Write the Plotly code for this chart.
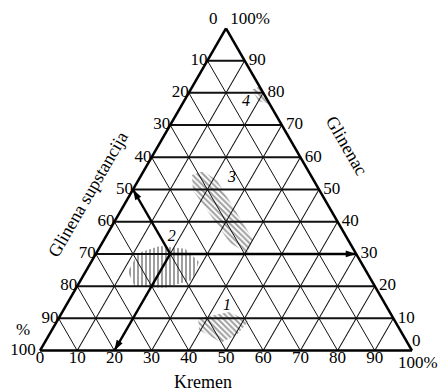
import math
import plotly.graph_objects as go

# tick labels on the three edges (reference reads 0 -> 100 counter-clockwise)
ticks = [10, 20, 30, 40, 50, 60, 70, 80, 90]

# hatched composition fields (a = Glinenac, b = Glinena supstancija, c = Kremen)
zone1_a = [10, 12, 9, 5, 2.5, 6.5]
zone1_b = [52.5, 43, 39.5, 44.5, 50, 54]
zone1_c = [37.5, 45, 51.5, 50.5, 47.5, 39.5]

zone2_a = [24.5, 30.3, 32.5, 31.6, 27.6, 22.0, 19.5, 19.8]
zone2_b = [64.1, 58.5, 51.5, 45.2, 43.5, 47.9, 56.7, 64.6]
zone2_c = [11.4, 11.2, 16.0, 23.2, 28.9, 30.1, 23.8, 15.6]

zone3_a = [54.5, 55.7, 52.9, 34.4, 30.3, 33.4, 49.8]
zone3_b = [31.9, 28.3, 26.0, 25.5, 29.2, 32.2, 34.0]
zone3_c = [13.6, 16.0, 21.1, 40.1, 40.5, 34.4, 16.2]

zone4_a = [81, 82, 76.5, 77.5]
zone4_b = [2.5, 0, 0, 2.5]
zone4_c = [16.5, 18, 23.5, 20]

# field numbers
num_text = ['1', '2', '3', '4']
num_a = [13.9, 35.3, 53.6, 77.1]
num_b = [42.8, 46.9, 21.6, 6.1]
num_c = [43.3, 17.8, 24.8, 16.8]

# worked example: point 2 = 30 % Glinenac, 50 % Glinena supstancija, 20 % Kremen
pt = dict(a=30, b=50, c=20)

FONT = 'Liberation Serif'
H = math.sqrt(3) / 2


def to_xy(a, b, c):
    # ternary composition -> position on an overlaid cartesian frame (side = 100)
    x, y = [], []
    for ai, bi, ci in zip(a, b, c):
        s = ai + bi + ci
        x.append((ci + ai / 2) / s * 100)
        y.append(ai / s * 100 * H)
    return x, y


def zone(a, b, c, shape):
    x, y = to_xy(a, b, c)
    return go.Scatter(x=x, y=y, mode='lines', fill='toself',
                      line=dict(width=0, color='rgba(0,0,0,0)'),
                      fillcolor='rgba(0,0,0,0)',
                      fillpattern=dict(shape=shape, fgcolor='#404040',
                                       bgcolor='rgba(0,0,0,0)',
                                       size=4, solidity=0.5),
                      hoverinfo='skip', showlegend=False)


def labels(a, b, c, text, pos, size=17):
    return go.Scatterternary(a=a, b=b, c=c, mode='text', text=text,
                             textposition=pos, cliponaxis=False,
                             textfont=dict(family=FONT, size=size, color='black'),
                             hoverinfo='skip', showlegend=False)


fig = go.Figure()

fig.add_trace(zone(zone1_a, zone1_b, zone1_c, '\\'))
fig.add_trace(zone(zone2_a, zone2_b, zone2_c, '|'))
fig.add_trace(zone(zone3_a, zone3_b, zone3_c, '\\'))
fig.add_trace(zone(zone4_a, zone4_b, zone4_c, '\\'))

# arrows from point 2 to the three edges
ends = [
    (dict(a=50, b=50, c=0), -30),   # Glinena supstancija
    (dict(a=0, b=80, c=20), 210),   # Kremen
    (dict(a=30, b=0, c=70), 90),    # Glinenac
]
for end, ang in ends:
    fig.add_trace(go.Scatterternary(
        a=[pt['a'], end['a']], b=[pt['b'], end['b']], c=[pt['c'], end['c']],
        mode='lines', line=dict(color='black', width=2.4),
        hoverinfo='skip', showlegend=False))
    fig.add_trace(go.Scatterternary(
        a=[end['a']], b=[end['b']], c=[end['c']], mode='markers',
        marker=dict(symbol='arrow', size=11, angle=ang, color='black'),
        cliponaxis=False, hoverinfo='skip', showlegend=False))

# edge tick labels
fig.add_trace(labels([100 - v for v in ticks], ticks, [0] * 9,
                     [str(v) for v in ticks], 'middle left'))
fig.add_trace(labels(ticks, [0] * 9, [100 - v for v in ticks],
                     ['\u00a0' + str(v) for v in ticks], 'middle right'))
fig.add_trace(labels([0] * 9, [100 - v for v in ticks], ticks,
                     [str(v) for v in ticks], 'bottom center'))

# corner labels
fig.add_trace(labels([100, 100], [0, 0], [0, 0], ['0\u00a0\u00a0', '\u00a0100%'],
                     ['top left', 'top right']))
fig.add_trace(labels([0, 0], [100, 100], [0, 0], ['100\u00a0', '0'],
                     ['middle left', 'bottom center']))
fig.add_trace(labels([0], [0], [100], ['0'], 'top right'))

# field numbers
fig.add_trace(labels(num_a, num_b, num_c, ['<i>%s</i>' % t for t in num_text],
                     'middle center', size=16))

axis = dict(tickmode='linear', tick0=0, dtick=10, min=0,
            showgrid=True, gridcolor='#111', gridwidth=1,
            showline=True, linecolor='black', linewidth=2.5,
            showticklabels=False, ticks='', title=dict(text=''))

title_font = dict(family=FONT, size=18, color='black')
tick_font = dict(family=FONT, size=17, color='black')

fig.update_layout(
    width=447, height=391,
    margin=dict(l=32, r=43, t=20, b=48),
    paper_bgcolor='white', plot_bgcolor='white',
    font=dict(family=FONT, size=17, color='black'),
    xaxis=dict(range=[0, 100], visible=False, fixedrange=True),
    yaxis=dict(range=[0, 100 * H], visible=False, fixedrange=True,
               scaleanchor='x', scaleratio=1),
    ternary=dict(sum=100, bgcolor='rgba(0,0,0,0)',
                 aaxis=dict(axis, gridwidth=1.6),
                 baxis=axis, caxis=axis),
    annotations=[
        dict(text='Glinena supstancija', xref='paper', yref='paper', x=0.129, y=0.486,
             xanchor='center', yanchor='middle', textangle=-60, showarrow=False,
             font=title_font),
        dict(text='Glinenac', xref='paper', yref='paper', x=0.825, y=0.635,
             xanchor='center', yanchor='middle', textangle=60, showarrow=False,
             font=title_font),
        dict(text='Kremen', xref='paper', yref='paper', x=0.438, y=-0.096,
             xanchor='center', yanchor='middle', showarrow=False, font=title_font),
        dict(text='%', xref='paper', yref='paper', x=-0.045, y=0.068,
             xanchor='center', yanchor='middle', showarrow=False, font=tick_font),
        dict(text='100%', xref='paper', yref='paper', x=0.958, y=-0.035,
             xanchor='left', yanchor='middle', showarrow=False, font=tick_font),
    ],
)

fig.write_html('out.html')
